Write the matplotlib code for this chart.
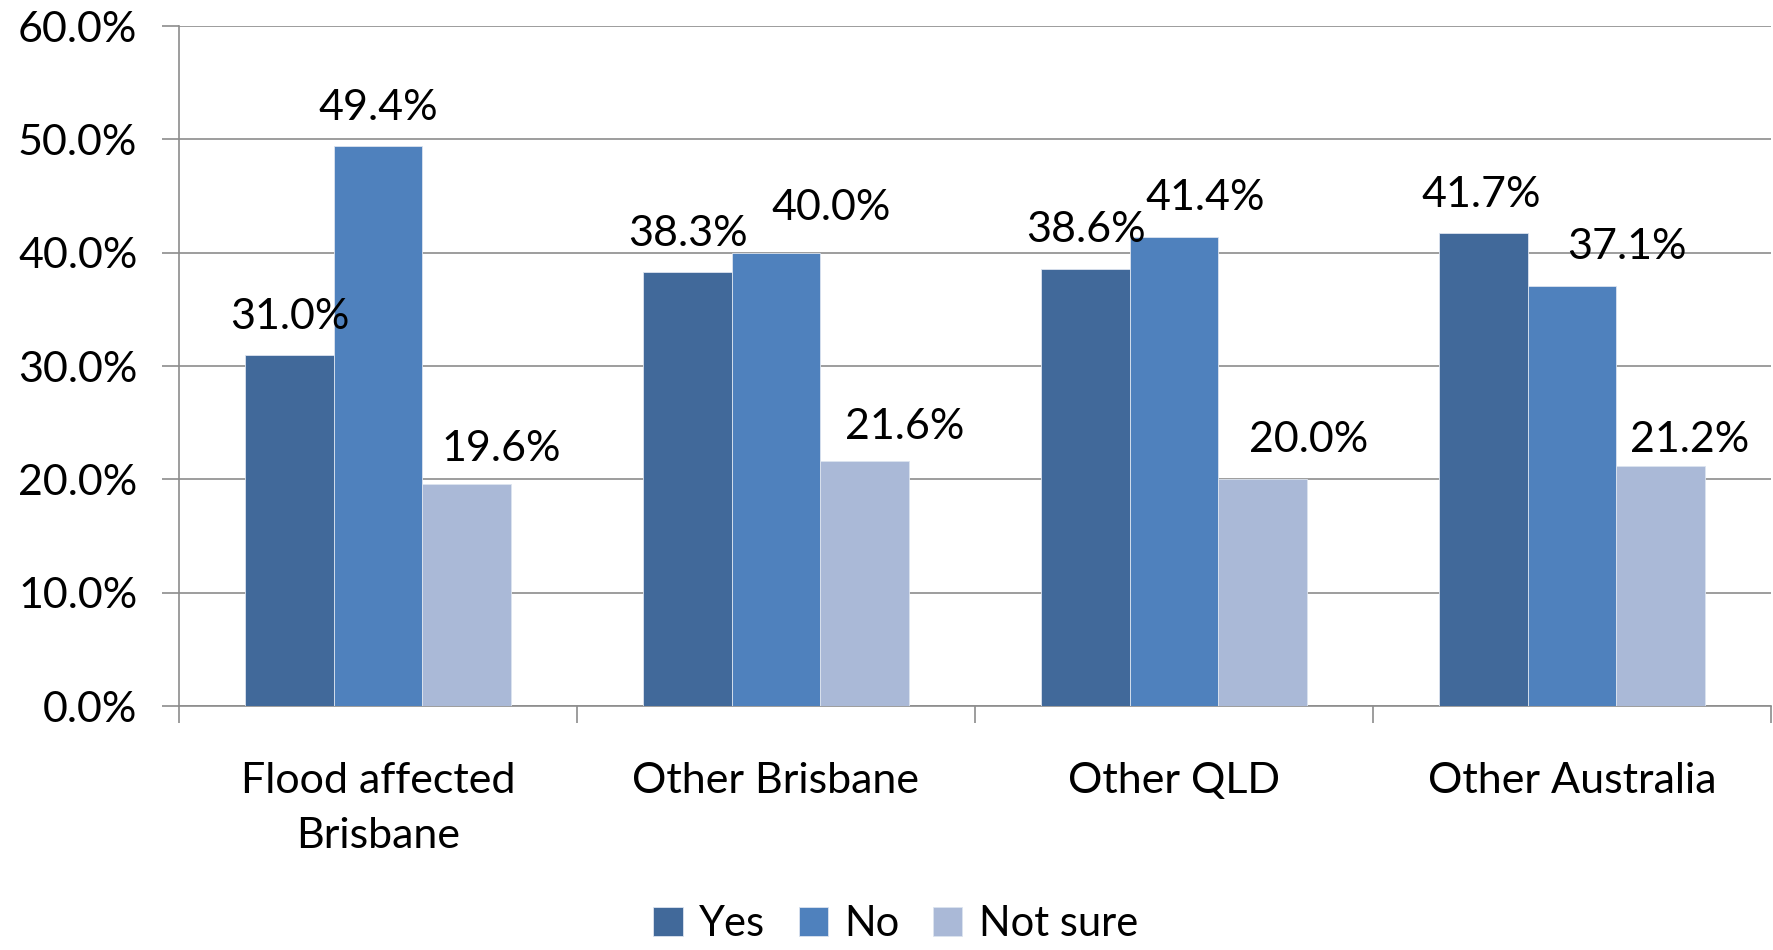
# Grouped bar chart: Yes / No / Not sure by region

import numpy as np
import matplotlib
matplotlib.use("Agg")
import matplotlib.pyplot as plt
from matplotlib.ticker import FixedLocator, PercentFormatter

plt.rcParams['font.family'] = ['Lato', 'DejaVu Sans']

# Data
categories = ['Flood affected\nBrisbane', 'Other Brisbane', 'Other QLD', 'Other Australia']
series_names = ['Yes', 'No', 'Not sure']
yes = [31.0, 38.3, 38.6, 41.7]
no = [49.4, 40.0, 41.4, 37.1]
not_sure = [19.6, 21.6, 20.0, 21.2]
colors = ['#41699a', '#4f81bd', '#aab9d7']

# data label nudges (pixels), labels were moved by hand in the original
label_dx = [[0, 0, 0, -2], [0, 55, 31, 55], [35, 40, 46, 29]]
label_dy = [[38, 38, 39, 38], [38, 45, 39, 39], [35, 34, 39, 26]]

fig = plt.figure(figsize=(17.74, 9.5), dpi=100)
ax = fig.add_axes([0.1009, 0.2568, 0.8974, 0.7158])

x = np.arange(len(categories))
width = 1 / 4.5
for i, (vals, name) in enumerate(zip([yes, no, not_sure], series_names)):
    pos = x + (i - 1) * width
    bars = ax.bar(pos, vals, width, color=colors[i], label=name,
                  edgecolor='#dce4ef', linewidth=0.6, zorder=3)
    for j, (b, v) in enumerate(zip(bars, vals)):
        ax.annotate(f'{v:.1f}%', (b.get_x() + b.get_width() / 2, v),
                    xytext=(label_dx[i][j], label_dy[i][j]), textcoords='offset pixels',
                    ha='center', va='center', fontsize=31, zorder=4)

ax.set_xlim(-0.5, len(categories) - 0.5)
ax.set_ylim(0, 60)
ax.yaxis.set_major_locator(FixedLocator(np.arange(0, 61, 10)))
ax.yaxis.set_major_formatter(PercentFormatter(decimals=1))
ax.grid(axis='y', color='#8c8c8c', linewidth=1.2, zorder=0)

ax.set_xticks(x)
ax.set_xticklabels(categories, fontsize=31, linespacing=1.55)
ax.xaxis.set_minor_locator(FixedLocator(np.arange(-0.5, len(categories), 1)))
ax.tick_params(axis='x', which='major', length=0, pad=40)
ax.tick_params(axis='x', which='minor', length=12, width=1.2, color='#8c8c8c')
ax.tick_params(axis='y', labelsize=31, length=12, width=1.2, color='#8c8c8c', pad=18)

for s in ['top', 'right']:
    ax.spines[s].set_visible(False)
for s in ['left', 'bottom']:
    ax.spines[s].set_color('#8c8c8c')
    ax.spines[s].set_linewidth(1.2)

fig.legend(loc='lower center', bbox_to_anchor=(0.505, -0.032), ncol=3,
           frameon=False, fontsize=30, handlelength=0.7, handleheight=0.7,
           handletextpad=0.4, columnspacing=0.8)

fig.savefig('out.png', dpi=100)
